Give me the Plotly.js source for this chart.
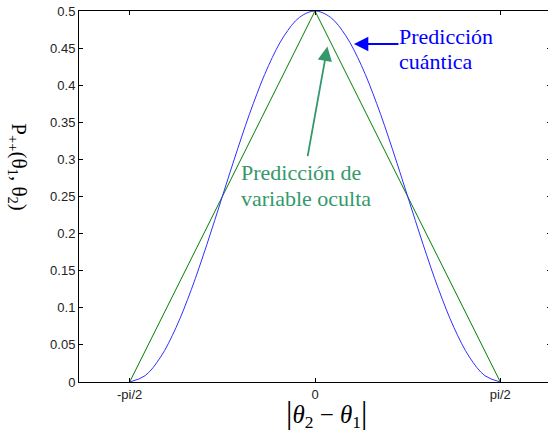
<!DOCTYPE html>
<html>
<head>
<meta charset="utf-8">
<script src="https://cdn.plot.ly/plotly-3.0.1.min.js"></script>
<style>
html,body{margin:0;padding:0;background:#fff;overflow:hidden;width:548px;height:431px;}
#chart{width:553px;height:431px;}
</style>
</head>
<body>
<div id="chart"></div>
<script>
// Quantum prediction (blue)
const quantumX = [-1.5708,-1.4399,-1.3090,-1.1781,-1.0472,-0.9163,-0.7854,-0.6545,-0.5236,-0.3927,-0.2618,-0.1309,0,
                  0.1309,0.2618,0.3927,0.5236,0.6545,0.7854,0.9163,1.0472,1.1781,1.3090,1.4399,1.5708];
const quantumY = [0,0.0085,0.0335,0.0732,0.125,0.1853,0.25,0.3147,0.375,0.4268,0.4665,0.4915,0.5,
                  0.4915,0.4665,0.4268,0.375,0.3147,0.25,0.1853,0.125,0.0732,0.0335,0.0085,0];
// Hidden-variable prediction (green)
const hiddenX = [-1.5708, 0, 1.5708];
const hiddenY = [0, 0.5, 0];
// Tick labels
const xTickVals = [-1.5708, 0, 1.5708];
const xTickText = ["-pi/2", "0", "pi/2"];
const yTickVals = [0,0.05,0.1,0.15,0.2,0.25,0.3,0.35,0.4,0.45,0.5];
const yTickText = ["0","0.05","0.1","0.15","0.2","0.25","0.3","0.35","0.4","0.45","0.5"];

const blue = "#0000ff";
const green = "#33996a";
const serif = "Liberation Serif, Times New Roman, serif";

const traces = [
  {x: hiddenX, y: hiddenY, mode: "lines", line: {color: "#008000", width: 1}, hoverinfo: "skip"},
  {x: quantumX, y: quantumY, mode: "lines", line: {color: "#2f2fff", width: 1, shape: "spline", smoothing: 1}, hoverinfo: "skip"}
];

const axisCommon = {
  showline: true, linecolor: "#000", linewidth: 1, mirror: "ticks",
  ticks: "inside", ticklen: 4, tickcolor: "#000", tickwidth: 1,
  showgrid: false, zeroline: false,
  tickfont: {family: "Liberation Sans, Arial, sans-serif", size: 13, color: "#222"}
};

function txt(x, y, s, color) {
  return {xref: "x", yref: "y", x: x, y: y, xanchor: "left", yanchor: "middle", align: "left",
          text: s, showarrow: false, font: {family: serif, size: 22, color: color}};
}

const layout = {
  width: 553, height: 431,
  margin: {l: 79, r: 2, t: 11, b: 49},
  paper_bgcolor: "#fff", plot_bgcolor: "#fff",
  showlegend: false,
  xaxis: Object.assign({}, axisCommon, {range: [-2, 2], tickvals: xTickVals, ticktext: xTickText}),
  yaxis: Object.assign({}, axisCommon, {range: [0, 0.5], tickvals: yTickVals, ticktext: yTickText}),
  annotations: [
    {xref: "x", yref: "y", x: 0.33, y: 0.4555, ax: 46, ay: 0, text: "", showarrow: true,
     arrowhead: 2, arrowsize: 1.6, arrowwidth: 1.8, arrowcolor: blue},
    txt(0.695, 0.4655, "Predicción", blue),
    txt(0.695, 0.4315, "cuántica", blue),
    {xref: "x", yref: "y", x: 0.105, y: 0.452, ax: -20, ay: 111, text: "", showarrow: true,
     arrowhead: 2, arrowsize: 1.6, arrowwidth: 1.8, arrowcolor: green},
    txt(-0.645, 0.282, "Predicción de", green),
    txt(-0.645, 0.247, "variable oculta", green),
    {xref: "paper", yref: "paper", x: 0.525, y: -0.083, xanchor: "center", yanchor: "middle",
     text: "<span style='font-size:32px'>|</span><i>θ</i><sub>2</sub> − <i>θ</i><sub>1</sub><span style='font-size:32px'>|</span>",
     showarrow: false, font: {family: serif, size: 25, color: "#000"}},
    {xref: "paper", yref: "paper", x: -0.128, y: 0.58, xanchor: "center", yanchor: "middle",
     textangle: 90, text: "P<sub>++</sub>(θ<sub>1</sub>, θ<sub>2</sub>)", showarrow: false,
     font: {family: serif, size: 21, color: "#000"}}
  ]
};

Plotly.newPlot("chart", traces, layout, {displayModeBar: false, staticPlot: true});
</script>
</body>
</html>
